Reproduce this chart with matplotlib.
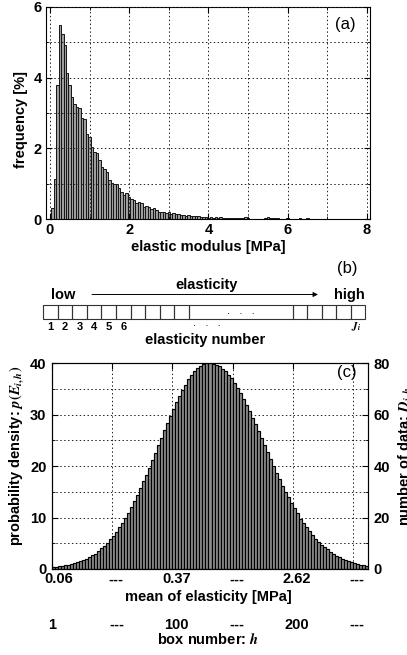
import numpy as np
import matplotlib.pyplot as plt
from matplotlib.patches import Rectangle
from matplotlib.transforms import ScaledTranslation
from matplotlib.ticker import MultipleLocator

plt.rcParams['font.family'] = ['Liberation Sans', 'DejaVu Sans']
plt.rcParams['font.weight'] = 'bold'
plt.rcParams['font.size'] = 10.5
plt.rcParams['mathtext.fontset'] = 'stix'

# (a) frequency histogram of the elastic modulus [MPa]
bin_width = 0.0625
bin_start = 0.03
freq = [0.32, 1.13, 3.78, 5.49, 5.25, 4.92, 4.14, 3.79, 3.46, 3.25,
        3.18, 3.13, 2.85, 2.83, 2.40, 2.33, 2.05, 1.91, 1.88, 1.67,
        1.48, 1.42, 1.34, 1.10, 1.01, 0.99, 0.98, 0.87, 0.77, 0.68,
        0.73, 0.63, 0.57, 0.54, 0.46, 0.47, 0.44, 0.35, 0.36, 0.33,
        0.27, 0.30, 0.25, 0.21, 0.19, 0.19, 0.18, 0.19, 0.15, 0.16,
        0.13, 0.14, 0.11, 0.12, 0.09, 0.10, 0.09, 0.08, 0.09, 0.08,
        0.05, 0.06, 0.05, 0.04, 0.05, 0.04, 0.05, 0.04, 0.05, 0.03,
        0.02, 0.02, 0.02, 0.03, 0.02, 0.03, 0.04, 0.02, 0.05, 0.02,
        0.01, 0.01, 0.0, 0.01, 0.0, 0.01, 0.04, 0.05, 0.02, 0.02,
        0.02, 0.02, 0.01, 0.0, 0.0, 0.02, 0.0, 0.0, 0.0, 0.0,
        0.02, 0.0, 0.0, 0.02]

# (b) schematic of elasticity boxes
n_left_boxes = 10
n_right_boxes = 5
box_numbers = ['1', '2', '3', '4', '5', '6']

# (c) probability density per box
dens = [0.3, 0.4, 0.5, 0.6, 0.7, 0.8, 0.9, 1.1, 1.3, 1.5,
        1.7, 2.0, 2.3, 2.7, 3.0, 3.5, 4.0, 4.5, 5.1, 5.8,
        6.5, 7.2, 8.1, 9.0, 9.9, 10.9, 12.0, 13.2, 14.4, 15.7,
        17.0, 18.3, 19.7, 21.1, 22.6, 24.0, 25.5, 26.9, 28.4, 29.7,
        31.1, 32.4, 33.6, 34.8, 35.8, 36.8, 37.6, 38.4, 39.0, 39.4,
        39.8, 40.0, 40.0, 39.9, 39.7, 39.4, 38.9, 38.4, 37.7, 37.0,
        36.1, 35.1, 34.1, 33.0, 31.8, 30.6, 29.4, 28.1, 26.7, 25.4,
        24.0, 22.7, 21.4, 20.0, 18.7, 17.4, 16.2, 15.0, 13.9, 12.8,
        11.8, 10.8, 9.8, 8.9, 8.1, 7.3, 6.6, 5.9, 5.3, 4.7,
        4.2, 3.8, 3.3, 2.9, 2.6, 2.3, 2.0, 1.7, 1.5, 1.3,
        1.1, 1.0, 0.8, 0.7, 0.6]
c_tick_pos = [0, 20, 40, 60, 80, 100]
c_ticks = ['0.06', '---', '0.37', '---', '2.62', '---']
box_ticks = ['1', '---', '100', '---', '200', '---']

W, H = 407, 655
fig = plt.figure(figsize=(W / 100, H / 100), dpi=100)

grid_kw = dict(color='#222222', linestyle=(0, (1.5, 2.5)), linewidth=0.7)

# ---- panel (a)
ax_a = fig.add_axes([46 / W, 1 - 219 / H, 324 / W, 212 / H])
edges = bin_start + bin_width * np.arange(len(freq))
ax_a.bar(edges, freq, width=bin_width, align='edge', color='#9e9e9e',
         edgecolor='#151515', linewidth=0.7)
ax_a.set_xlim(-0.1, 8.08)
ax_a.set_ylim(0, 6)
ax_a.xaxis.set_major_locator(MultipleLocator(2))
ax_a.xaxis.set_minor_locator(MultipleLocator(1))
ax_a.yaxis.set_major_locator(MultipleLocator(2))
ax_a.yaxis.set_minor_locator(MultipleLocator(1))
ax_a.set_axisbelow(False)
ax_a.grid(True, which='both', **grid_kw)
ax_a.tick_params(which='both', direction='in', top=True, right=True, pad=3)
ax_a.tick_params(which='major', length=4)
ax_a.tick_params(which='minor', length=2)

# ---- panel (c)
ax_c = fig.add_axes([52 / W, 1 - 569 / H, 316 / W, 206 / H])
xs = np.arange(len(dens))
ax_c.bar(xs, dens, width=1, align='edge', color='#8e8e8e',
         edgecolor='black', linewidth=0.85)
ax_c.set_xlim(0, len(dens))
ax_c.set_ylim(0, 40)
ax_c.yaxis.set_major_locator(MultipleLocator(10))
ax_c.yaxis.set_minor_locator(MultipleLocator(5))
ax_c.set_xticks(c_tick_pos)
ax_c.set_xticklabels(c_ticks)
ax_c.set_axisbelow(True)
ax_c.grid(True, which='both', **grid_kw)
ax_c.tick_params(which='both', direction='in', top=True, pad=4)
ax_c.tick_params(axis='x', pad=2.5)
ax_c.tick_params(which='major', length=4)
ax_c.tick_params(which='minor', length=2)
for i, lab in enumerate(ax_c.get_xticklabels()):
    dx = 7 if i == 0 else 4
    lab.set_transform(lab.get_transform() + ScaledTranslation(dx / 100, 0, fig.dpi_scale_trans))
ax_c2 = ax_c.twinx()
ax_c2.set_ylim(0, 80)
ax_c2.yaxis.set_major_locator(MultipleLocator(20))
ax_c2.yaxis.set_minor_locator(MultipleLocator(10))
ax_c2.tick_params(which='both', direction='in', pad=4)
ax_c2.tick_params(which='major', length=4)
ax_c2.tick_params(which='minor', length=2)
for pos, lab in zip(c_tick_pos, box_ticks):
    x = pos + (0.2 if lab == '1' else 1.4)
    ax_c.text(x, -0.272, lab, transform=ax_c.get_xaxis_transform(),
              ha='center', va='center', fontweight='bold')

# ---- overlay in pixel coordinates: panel (b) and labels
ax_b = fig.add_axes([0, 0, 1, 1])
ax_b.set_xlim(0, W)
ax_b.set_ylim(H, 0)
ax_b.axis('off')
ax_b.patch.set_visible(False)

ax_b.text(345, 25, '(a)', ha='center', va='center', fontsize=12, fontweight='normal')
ax_b.text(21, 119, 'frequency [%]', rotation=90, ha='center', va='center')
ax_b.text(208, 246.5, 'elastic modulus [MPa]', ha='center', va='center')

ax_b.text(347, 269, '(b)', ha='center', va='center', fontsize=12, fontweight='normal')
ax_b.text(207, 285.5, 'elasticity', ha='center', va='center')
ax_b.text(63, 295, 'low', ha='center', va='center')
ax_b.text(349, 295, 'high', ha='center', va='center')
ax_b.annotate('', xy=(318, 294.5), xytext=(92, 294.5),
              arrowprops=dict(arrowstyle='-|>', color='black', lw=0.7,
                              mutation_scale=7, shrinkA=0, shrinkB=0))
bx0, by0, bh = 43.3, 305, 14
bw = 14.55
long_w = 103.7
x = bx0
for k in range(n_left_boxes):
    ax_b.add_patch(Rectangle((x, by0), bw, bh, fill=False, ec='#333333', lw=0.8))
    x += bw
ax_b.add_patch(Rectangle((x, by0), long_w, bh, fill=False, ec='#333333', lw=0.8))
x += long_w
for k in range(n_right_boxes):
    ax_b.add_patch(Rectangle((x, by0), bw, bh, fill=False, ec='#333333', lw=0.8))
    x += bw
ax_b.text(241, 311, '.   .   .', ha='center', va='center', fontsize=8, fontweight='normal')
for k, lab in enumerate(box_numbers):
    ax_b.text(bx0 + bw * (k + 0.5), 327, lab, ha='center', va='center', fontsize=8)
ax_b.text(207, 323, '.   .   .', ha='center', va='center', fontsize=8, fontweight='normal')
ax_b.text(356, 327, r'$\mathbf{\mathit{J}}_{\mathit{i}}$', ha='center', va='center', fontsize=8)
ax_b.text(205, 340, 'elasticity number', ha='center', va='center')

ax_b.text(347, 373, '(c)', ha='center', va='center', fontsize=12, fontweight='normal')
ax_b.text(17, 456, r'probability density: $p(E_{i,h})$', rotation=90,
          ha='center', va='center')
ax_b.text(406, 456, r'number of data: $D_{i,h}$', rotation=90,
          ha='center', va='center')
ax_b.text(208, 597, 'mean of elasticity [MPa]', ha='center', va='center')
ax_b.text(208, 640, r'box number: $h$', ha='center', va='center')

fig.savefig('out.png', dpi=100)
